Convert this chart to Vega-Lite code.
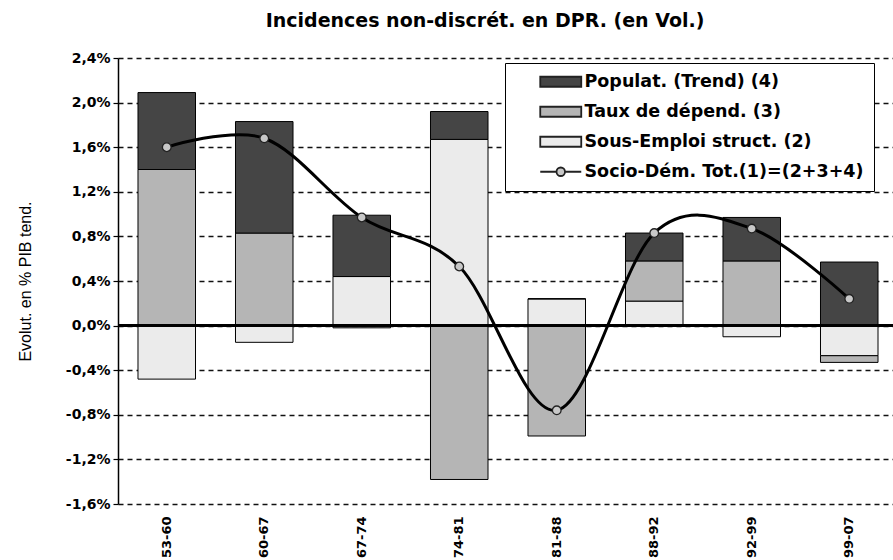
{
  "$schema": "https://vega.github.io/schema/vega-lite/v6.json",
  "width": 780,
  "height": 446,
  "autosize": {"type": "none"},
  "padding": {"left": 118, "top": 58, "right": 0, "bottom": 56},
  "background": "white",
  "title": {
    "text": "Incidences non-discrét. en DPR. (en Vol.)",
    "font": "DejaVu Sans",
    "fontSize": 19,
    "fontWeight": "bold",
    "color": "black",
    "anchor": "middle",
    "dx": -23,
    "offset": 20
  },
  "config": {"view": {"stroke": null}},
  "datasets": {
    "bars": [
      {"per": "53-60", "serie": "Sous-Emploi struct. (2)", "num": 2, "val": -0.48},
      {"per": "53-60", "serie": "Taux de dépend. (3)", "num": 3, "val": 1.40},
      {"per": "53-60", "serie": "Populat. (Trend) (4)", "num": 4, "val": 0.69},
      {"per": "60-67", "serie": "Sous-Emploi struct. (2)", "num": 2, "val": -0.15},
      {"per": "60-67", "serie": "Taux de dépend. (3)", "num": 3, "val": 0.83},
      {"per": "60-67", "serie": "Populat. (Trend) (4)", "num": 4, "val": 1.00},
      {"per": "67-74", "serie": "Sous-Emploi struct. (2)", "num": 2, "val": 0.44},
      {"per": "67-74", "serie": "Taux de dépend. (3)", "num": 3, "val": -0.02},
      {"per": "67-74", "serie": "Populat. (Trend) (4)", "num": 4, "val": 0.55},
      {"per": "74-81", "serie": "Sous-Emploi struct. (2)", "num": 2, "val": 1.67},
      {"per": "74-81", "serie": "Taux de dépend. (3)", "num": 3, "val": -1.38},
      {"per": "74-81", "serie": "Populat. (Trend) (4)", "num": 4, "val": 0.25},
      {"per": "81-88", "serie": "Sous-Emploi struct. (2)", "num": 2, "val": 0.24},
      {"per": "81-88", "serie": "Taux de dépend. (3)", "num": 3, "val": -0.99},
      {"per": "81-88", "serie": "Populat. (Trend) (4)", "num": 4, "val": 0.0},
      {"per": "88-92", "serie": "Sous-Emploi struct. (2)", "num": 2, "val": 0.22},
      {"per": "88-92", "serie": "Taux de dépend. (3)", "num": 3, "val": 0.36},
      {"per": "88-92", "serie": "Populat. (Trend) (4)", "num": 4, "val": 0.25},
      {"per": "92-99", "serie": "Sous-Emploi struct. (2)", "num": 2, "val": -0.10},
      {"per": "92-99", "serie": "Taux de dépend. (3)", "num": 3, "val": 0.58},
      {"per": "92-99", "serie": "Populat. (Trend) (4)", "num": 4, "val": 0.39},
      {"per": "99-07", "serie": "Sous-Emploi struct. (2)", "num": 2, "val": -0.27},
      {"per": "99-07", "serie": "Taux de dépend. (3)", "num": 3, "val": -0.06},
      {"per": "99-07", "serie": "Populat. (Trend) (4)", "num": 4, "val": 0.57}
    ],
    "tot": [
      {"per": "53-60", "tot": 1.60},
      {"per": "60-67", "tot": 1.68},
      {"per": "67-74", "tot": 0.97},
      {"per": "74-81", "tot": 0.53},
      {"per": "81-88", "tot": -0.76},
      {"per": "88-92", "tot": 0.83},
      {"per": "92-99", "tot": 0.87},
      {"per": "99-07", "tot": 0.24}
    ]
  },
  "layer": [
    {
      "data": {"name": "bars"},
      "mark": {"type": "bar", "stroke": "black", "strokeWidth": 1},
      "encoding": {
        "x": {
          "field": "per", "type": "nominal", "sort": null,
          "scale": {"paddingInner": 0.41, "paddingOuter": 0.205},
          "axis": {
            "title": null, "labelAngle": -90, "labelAlign": "right", "labelBaseline": "middle",
            "labelFont": "DejaVu Sans", "labelFontWeight": "bold", "labelFontSize": 13,
            "labelColor": "black", "domain": false, "ticks": false, "grid": false, "labelPadding": 12
          }
        },
        "y": {
          "field": "val", "type": "quantitative", "stack": "zero",
          "scale": {"domain": [-1.6, 2.4], "nice": false, "zero": false},
          "axis": {
            "title": "Evolut. en % PIB tend.",
            "values": [-1.6, -1.2, -0.8, -0.4, 0, 0.4, 0.8, 1.2, 1.6, 2, 2.4],
            "labelExpr": "(datum.value < -0.001 ? '-' : '') + replace(format(abs(datum.value), '.1f'), '.', ',') + '%'",
            "labelFont": "DejaVu Sans", "labelFontWeight": "bold", "labelFontSize": 14,
            "labelColor": "black", "labelPadding": 3,
            "domainColor": "black", "domainWidth": 1.5,
            "tickColor": "black", "tickSize": 5, "tickWidth": 1.2,
            "grid": true, "gridColor": "#111", "gridDash": [5, 4], "gridWidth": 1.7,
            "titleFont": "Liberation Sans", "titleFontWeight": "normal", "titleFontSize": 16,
            "titleColor": "black", "titlePadding": 32
          }
        },
        "color": {
          "field": "serie", "type": "nominal",
          "scale": {
            "domain": ["Populat. (Trend) (4)", "Taux de dépend. (3)", "Sous-Emploi struct. (2)", "Socio-Dém. Tot.(1)=(2+3+4)"],
            "range": ["#454545", "#b5b5b5", "#ebebeb", "#c8c8c8"]
          },
          "legend": {
            "title": null, "orient": "none", "legendX": 387, "legendY": 5,
            "strokeColor": "black", "fillColor": "white", "padding": 10,
            "labelFont": "DejaVu Sans", "labelFontWeight": "bold", "labelFontSize": 17.5,
            "labelColor": "black", "labelLimit": 500,
            "symbolSize": 100, "symbolOffset": 37, "labelOffset": 15, "rowPadding": 11,
            "symbolStrokeColor": "black", "symbolStrokeWidth": 1.8, "symbolOpacity": 1
          }
        },
        "order": {"field": "num", "type": "quantitative", "sort": "ascending"}
      }
    },
    {
      "data": {"values": [{}]},
      "mark": {"type": "rule", "color": "black", "strokeWidth": 3},
      "encoding": {"y": {"datum": 0}}
    },
    {
      "data": {"name": "tot"},
      "mark": {"type": "line", "color": "black", "strokeWidth": 3, "interpolate": "cardinal"},
      "encoding": {
        "x": {"field": "per", "type": "nominal", "sort": null},
        "y": {"field": "tot", "type": "quantitative"}
      }
    },
    {
      "data": {"name": "tot"},
      "mark": {"type": "point", "filled": true, "size": 75, "stroke": "#222", "strokeWidth": 1.3, "opacity": 1},
      "encoding": {
        "x": {"field": "per", "type": "nominal", "sort": null},
        "y": {"field": "tot", "type": "quantitative"},
        "color": {"datum": "Socio-Dém. Tot.(1)=(2+3+4)"}
      }
    },
    {
      "data": {"name": "tot"},
      "mark": {"type": "point", "filled": true, "opacity": 0},
      "encoding": {
        "x": {"field": "per", "type": "nominal", "sort": null},
        "y": {"field": "tot", "type": "quantitative"},
        "color": {"datum": "Socio-Dém. Tot.(1)=(2+3+4)"},
        "shape": {
          "datum": "Socio-Dém. Tot.(1)=(2+3+4)",
          "scale": {
            "domain": ["Populat. (Trend) (4)", "Taux de dépend. (3)", "Sous-Emploi struct. (2)", "Socio-Dém. Tot.(1)=(2+3+4)"],
            "range": ["M-4.1,-1H4.1V1H-4.1Z", "M-4.1,-1H4.1V1H-4.1Z", "M-4.1,-1H4.1V1H-4.1Z", "M-4.1,0H-0.85M0.85,0H4.1M-0.85,0A0.85,0.85,0,1,0,0.85,0A0.85,0.85,0,1,0,-0.85,0"]
          },
          "legend": {
            "title": null, "orient": "none", "legendX": 387, "legendY": 5,
            "strokeColor": "black", "fillColor": "white", "padding": 10,
            "labelFont": "DejaVu Sans", "labelFontWeight": "bold", "labelFontSize": 17.5,
            "labelColor": "black", "labelLimit": 500,
            "symbolSize": 100, "symbolOffset": 37, "labelOffset": 15, "rowPadding": 11,
            "symbolStrokeColor": "black", "symbolStrokeWidth": 1.8, "symbolOpacity": 1
          }
        }
      }
    }
  ]
}
